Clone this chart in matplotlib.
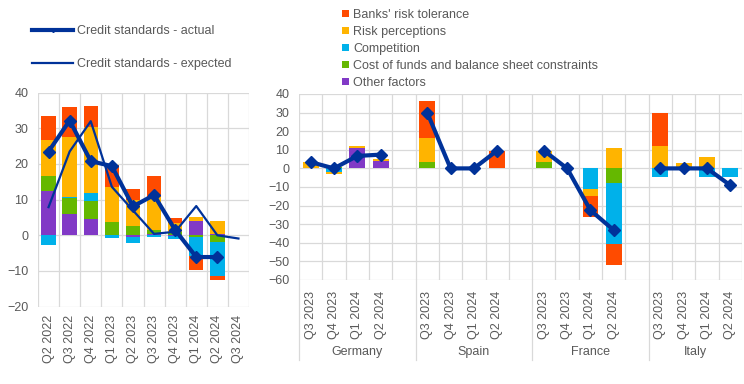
import matplotlib
matplotlib.use("Agg")
import matplotlib.pyplot as plt
import numpy as np
from matplotlib.lines import Line2D
from matplotlib.patches import Patch
import matplotlib.transforms as mtransforms

plt.rcParams['font.family'] = ['Liberation Sans', 'DejaVu Sans']

# ---------------- data ----------------
left_quarters = ["Q2 2022", "Q3 2022", "Q4 2022", "Q1 2023", "Q2 2023",
                 "Q3 2023", "Q4 2023", "Q1 2024", "Q2 2024", "Q3 2024"]
# components (euro area)
left_other = [12.3, 6.0, 4.5, 0.0, -0.5, 0.4, -0.3, 3.9, 0.3, 0.0]
left_cost = [4.2, 4.6, 5.0, 3.7, 2.5, 1.2, 0.9, -0.5, -1.9, 0.0]
left_comp = [-2.8, 0.2, 2.3, -0.7, -1.7, -0.5, -0.8, -5.4, -9.5, 0.0]
left_riskp = [10.1, 16.7, 18.5, 9.8, 7.3, 9.1, 2.6, 1.2, 3.6, 0.0]
left_risktol = [6.8, 8.5, 5.9, 6.1, 3.1, 5.8, 1.4, -3.7, -1.2, 0.0]
left_actual = [23.5, 32.2, 20.8, 19.4, 8.1, 11.3, 1.5, -6.1, -6.1, np.nan]
left_expected = [7.9, 23.5, 32.0, 13.6, 7.0, 0.4, 1.0, 8.2, 0.0, -0.9]

countries = ["Germany", "Spain", "France", "Italy"]
right_quarters = ["Q3 2023", "Q4 2023", "Q1 2024", "Q2 2024"]
# per country, per quarter
right_other = [[0.0, 0.0, 10.7, 3.8], [0.0, 0.0, 0.0, 0.0],
               [0.0, 0.0, 0.0, 0.0], [0.0, 0.0, 0.0, 0.0]]
right_cost = [[0.0, 0.5, 0.0, 0.0], [3.2, 0.0, 0.0, 0.0],
              [3.2, 0.0, 0.0, -7.7], [0.0, 0.0, 0.0, 0.0]]
right_comp = [[0.0, -2.0, 0.0, 0.0], [0.0, 0.0, 0.0, 0.0],
              [0.0, 0.0, -11.3, -33.0], [-4.6, 0.0, -4.6, -4.6]]
right_riskp = [[3.2, -0.9, 1.1, 1.0], [13.4, 0.0, 0.0, 0.0],
               [6.4, 0.0, -3.7, 10.7], [11.8, 2.7, 5.9, 0.0]]
right_risktol = [[0.0, 0.0, 0.0, 0.0], [19.8, 0.0, 0.0, 9.6],
                 [0.0, 0.0, -11.1, -11.1], [18.2, 0.0, 0.0, 0.0]]
right_actual = [[3.4, 0.0, 6.7, 7.4], [30.0, 0.0, 0.0, 9.6],
                [9.6, 0.0, -22.5, -33.2], [0.0, 0.0, 0.0, -9.1]]

series_names = ["Banks' risk tolerance", "Risk perceptions", "Competition",
                "Cost of funds and balance sheet constraints", "Other factors"]
series_colors = ["#FF4B00", "#FFB400", "#00B1EA", "#65B800", "#8139C6"]
line_color = "#003299"
grid_color = "#D9D9D9"
text_color = "#595959"
fs = 9

# ---------------- figure ----------------
W, H = 744, 384
fig = plt.figure(figsize=(W / 100, H / 100), dpi=100)


def px_axes(x0, x1, ytop, ybot):
    return fig.add_axes([x0 / W, 1 - ybot / H, (x1 - x0) / W, (ybot - ytop) / H])


def stack_bars(ax, x, comps, colors, width):
    pos = np.zeros(len(x))
    neg = np.zeros(len(x))
    for vals, c in zip(comps, colors):
        v = np.asarray(vals, dtype=float)
        p = np.where(v > 0, v, 0)
        n = np.where(v < 0, v, 0)
        ax.bar(x, p, width, bottom=pos, color=c, linewidth=0, zorder=2)
        ax.bar(x, n, width, bottom=neg, color=c, linewidth=0, zorder=2)
        pos += p
        neg += n


def style_axes(ax, nslots, ymin, ymax, ystep):
    ax.set_xlim(-0.5, nslots - 0.5)
    ax.set_ylim(ymin, ymax)
    ax.set_yticks(np.arange(ymin, ymax + 1, ystep))
    for b in np.arange(-0.5, nslots, 1.0):
        ax.axvline(b, color=grid_color, lw=0.9, zorder=0)
    for yv in np.arange(ymin, ymax + 1, ystep):
        ax.axhline(yv, color=grid_color, lw=0.9, zorder=0)
    for s in ax.spines.values():
        s.set_visible(False)
    ax.tick_params(axis='both', length=0, colors=text_color, labelsize=fs)
    ax.tick_params(axis='y', pad=7)


comp_colors = ["#8139C6", "#65B800", "#00B1EA", "#FFB400", "#FF4B00"]

# left panel
axL = px_axes(38, 249, 92.7, 306.6)
xl = np.arange(len(left_quarters))
style_axes(axL, len(left_quarters), -20, 40, 10)
stack_bars(axL, xl, [left_other, left_cost, left_comp, left_riskp, left_risktol],
           comp_colors, 0.68)
axL.plot(xl, left_expected, color=line_color, lw=1.6, zorder=3)
axL.plot(xl, left_actual, color=line_color, lw=3.0, marker='D', ms=6, zorder=4)
axL.set_xticks(xl)
axL.set_xticklabels(left_quarters, rotation=90)
axL.tick_params(axis='x', pad=6)

# right panel
axR = px_axes(299, 742, 94, 280)
nslots = 19
style_axes(axR, nslots, -60, 40, 10)
xr_all, labels_all = [], []
for g, country in enumerate(countries):
    xr = np.arange(4) + g * 5
    stack_bars(axR, xr, [right_other[g], right_cost[g], right_comp[g],
                         right_riskp[g], right_risktol[g]], comp_colors, 0.68)
    axR.plot(xr, right_actual[g], color=line_color, lw=3.0, marker='D', ms=6, zorder=4)
    xr_all.extend(xr)
    labels_all.extend(right_quarters)
axR.set_xticks(xr_all)
axR.set_xticklabels(labels_all, rotation=90)
axR.tick_params(axis='x', pad=8)

trans = mtransforms.blended_transform_factory(axR.transData, axR.transAxes)
for g, country in enumerate(countries):
    xs = g * 5 - 0.5
    axR.add_line(Line2D([xs, xs], [0, -0.43], transform=trans, color=grid_color,
                        lw=0.9, clip_on=False))
    xc = g * 5 + (2.0 if g < 3 else 1.5)
    axR.text(xc, -0.385, country, transform=trans, ha='center', va='center',
             color=text_color, fontsize=fs)

# legends
hL = [Line2D([], [], color=line_color, lw=3.0, marker='D', ms=2),
      Line2D([], [], color=line_color, lw=1.6)]
fig.legend(hL, ["Credit standards - actual", "Credit standards - expected"],
           loc='upper left', bbox_to_anchor=(32 / W, 1 - 25 / H), frameon=False,
           fontsize=fs, labelcolor=text_color, handlelength=3.3, handletextpad=0.3,
           labelspacing=1.68, borderpad=0, borderaxespad=0)

hR = [Patch(facecolor=c, edgecolor='none') for c in series_colors]
fig.legend(hR, series_names, loc='upper left', bbox_to_anchor=(342 / W, 1 - 9 / H),
           frameon=False, fontsize=fs, labelcolor=text_color, handlelength=0.55,
           handleheight=0.55, handletextpad=0.35, labelspacing=0.4,
           borderpad=0, borderaxespad=0)

fig.savefig("out.png", dpi=100)
